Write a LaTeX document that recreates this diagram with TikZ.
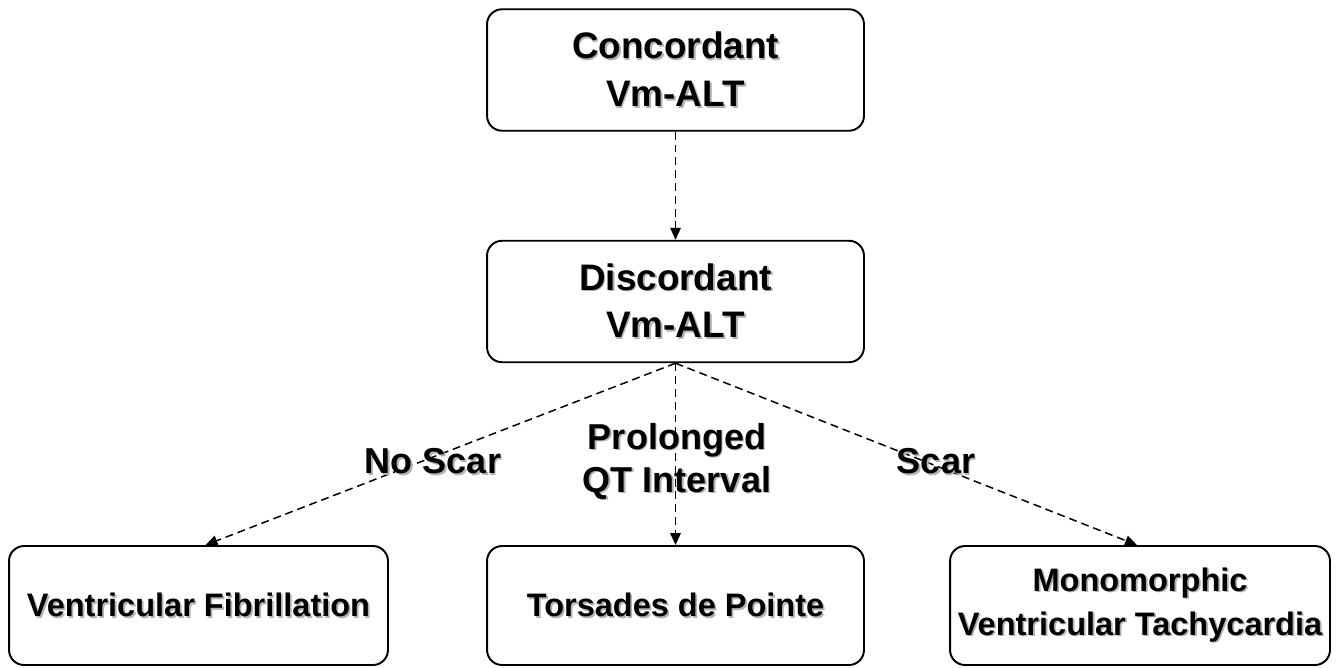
\documentclass[tikz,border=0pt]{standalone}
\usepackage{fontspec}
\setmainfont{Liberation Sans}
\usetikzlibrary{arrows.meta,calc}
% bold text with a soft grey drop shadow
\newcommand\shd[1]{\makebox[0pt][l]{\kern1pt\raisebox{-1pt}{\color{black!30}#1}}#1}
\begin{document}
\begin{tikzpicture}[x=0.02cm,y=-0.02cm,
  box/.style={draw=black,line width=1.1pt,rounded corners=0.3cm,inner sep=0pt,
    align=center,font=\bfseries},
  topbox/.style={box,minimum width=7.54cm,minimum height=2.43cm,
    font=\fontsize{21}{27.3}\selectfont\bfseries},
  lowbox/.style={box,minimum height=2.38cm,
    font=\fontsize{18.5}{25}\selectfont\bfseries},
  lbl/.style={inner sep=0pt,align=center,font=\fontsize{20.5}{24.5}\selectfont\bfseries},
  flow/.style={line width=0.85pt,dash pattern=on 4.5pt off 2.8pt,
    -{Triangle[length=2.4mm,width=2.1mm]}}]
\useasboundingbox (0,0) rectangle (1341,667);

\node[topbox] (conc) at (675.5,70) {\shd{Concordant}\\\shd{Vm-ALT}};
\node[topbox] (disc) at (675.5,301.5) {\shd{Discordant}\\\shd{Vm-ALT}};

\node[lowbox,minimum width=7.58cm] (vf)  at (198.5,605.5) {\shd{Ventricular Fibrillation}};
\node[lowbox,minimum width=7.54cm] (tdp) at (675.5,605.5) {\shd{Torsades de Pointe}};
\node[lowbox,minimum width=7.6cm]  (mvt) at (1140,605.5) {\shd{Monomorphic}\\\shd{Ventricular Tachycardia}};

\draw[flow] (conc.south) -- (disc.north);
\draw[flow] (disc.south) -- ($(vf.north)+(7,0)$);
\draw[flow] (disc.south) -- (tdp.north);
\draw[flow] (disc.south) -- ($(mvt.north)+(-3,0)$);

\node[lbl] (noscar) at (433,462) {\shd{No Scar}};
\node[lbl] (qt) at (677,462) {\shd{Prolonged}\\\shd{QT Interval}};
\node[lbl] (scar) at (936,462) {\shd{Scar}};
\end{tikzpicture}
\end{document}
